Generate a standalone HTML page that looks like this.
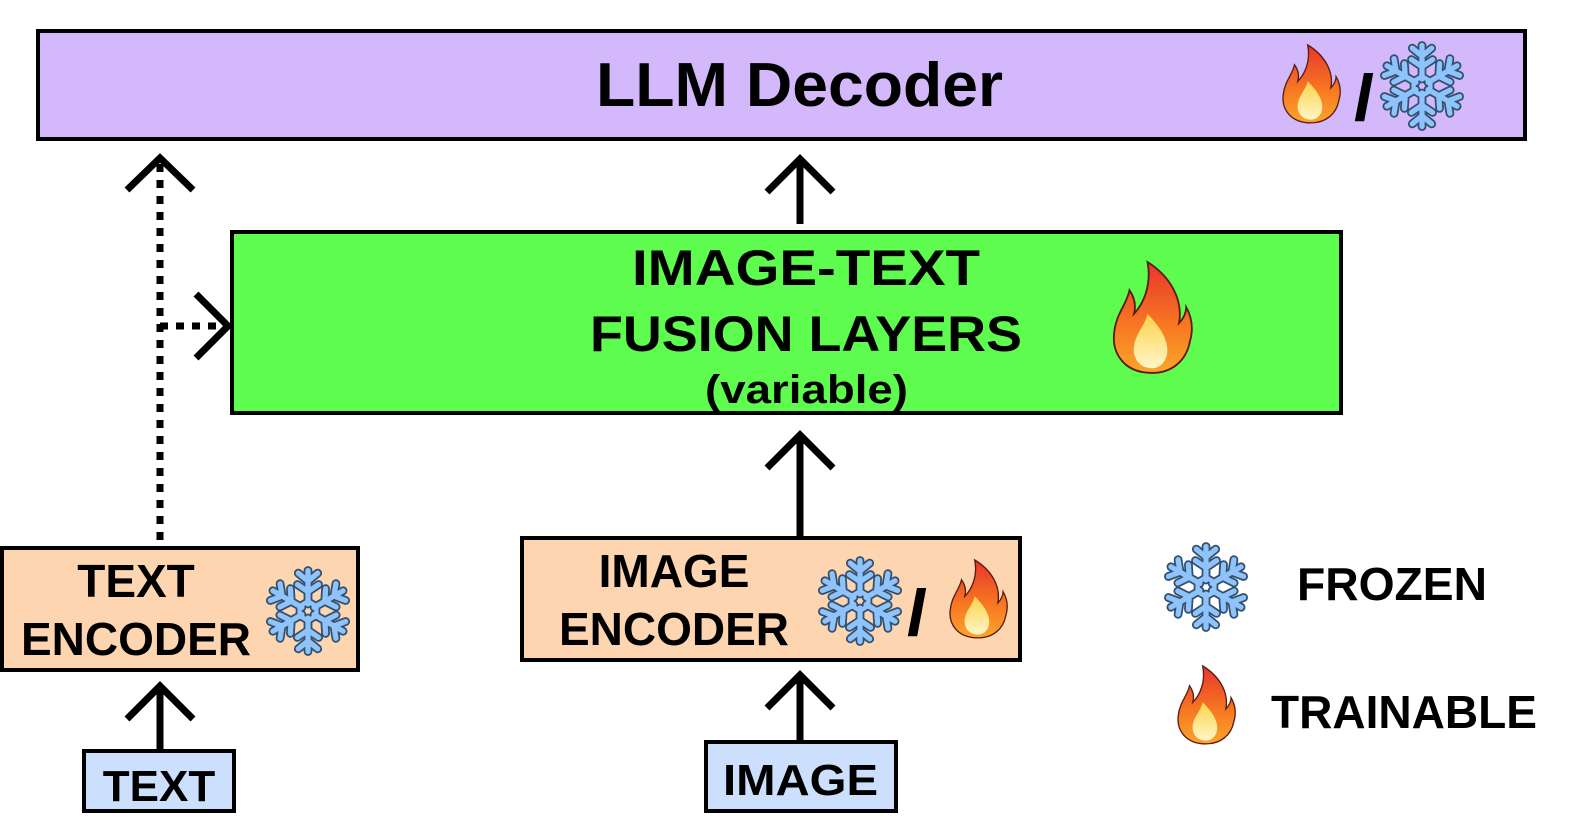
<!DOCTYPE html>
<html><head><meta charset="utf-8"><style>
html,body{margin:0;padding:0;background:#fff;}
svg{display:block;}
text{font-family:"Liberation Sans",sans-serif;font-weight:bold;fill:#000;}
</style></head><body>
<svg width="1571" height="827" viewBox="0 0 1571 827" xmlns="http://www.w3.org/2000/svg">
<defs>
<linearGradient id="fo" x1="0" y1="0" x2="0" y2="1">
<stop offset="0" stop-color="#e8352b"/><stop offset="0.6" stop-color="#f77b22"/><stop offset="1" stop-color="#fba52a"/>
</linearGradient>
<linearGradient id="fi" x1="0" y1="0" x2="0" y2="1">
<stop offset="0" stop-color="#fbd24a"/><stop offset="1" stop-color="#fff6c8"/>
</linearGradient>
<g id="fire">
<path d="M50,118 C20,118 5,98 8,75 C10,55 22,45 25,30 C32,40 32,48 30,55 C40,45 50,25 45,0 C70,15 85,40 80,65 C85,60 88,55 88,48 C95,60 96,72 92,85 C88,105 72,118 50,118 Z" fill="url(#fo)" stroke="#5a1a10" stroke-width="2"/>
<path d="M50,113 C35,113 28,101 30,89 C32,76 42,68 45,55 C55,65 63,75 66,86 C70,101 62,113 50,113Z" fill="url(#fi)"/>
</g>
<g id="armD"><path d="M0,-8 L0,-46 M0,-34 L-11,-43 M0,-34 L11,-43 M0,-22 L-12,-30 M0,-22 L12,-30" stroke-linecap="round"/></g>
<g id="snow">
<g stroke="#33506e" stroke-width="10" fill="none">
<use href="#armD"/><use href="#armD" transform="rotate(60)"/><use href="#armD" transform="rotate(120)"/><use href="#armD" transform="rotate(180)"/><use href="#armD" transform="rotate(240)"/><use href="#armD" transform="rotate(300)"/>
<polygon points="0,-11 9.5,-5.5 9.5,5.5 0,11 -9.5,5.5 -9.5,-5.5" stroke-width="9"/>
</g>
<g stroke="#8ec3fb" stroke-width="6" fill="none">
<use href="#armD"/><use href="#armD" transform="rotate(60)"/><use href="#armD" transform="rotate(120)"/><use href="#armD" transform="rotate(180)"/><use href="#armD" transform="rotate(240)"/><use href="#armD" transform="rotate(300)"/>
<polygon points="0,-11 9.5,-5.5 9.5,5.5 0,11 -9.5,5.5 -9.5,-5.5" stroke-width="5"/>
</g>
</g>
</defs>

<rect x="38" y="31" width="1487" height="108" fill="#d3b9fb" stroke="#000" stroke-width="4"/>
<text x="596" y="106" font-size="62" textLength="407" lengthAdjust="spacingAndGlyphs">LLM Decoder</text>
<use href="#fire" transform="translate(1278,45) scale(0.66)"/>
<text x="1364" y="119" font-size="62" text-anchor="middle" stroke="#000" stroke-width="2">/</text>
<use href="#snow" transform="translate(1422,86) scale(0.88)"/>

<g stroke="#000" stroke-width="7" fill="none" stroke-linecap="butt">
<line x1="800" y1="224" x2="800" y2="160"/>
<polyline points="767,192 800,159 833,192"/>
<line x1="800" y1="537" x2="800" y2="435"/>
<polyline points="767,468 800,435 833,468"/>
<line x1="800" y1="742" x2="800" y2="675"/>
<polyline points="767,708 800,675 833,708"/>
<line x1="160" y1="750" x2="160" y2="686"/>
<polyline points="127,719 160,686 193,719"/>
<polyline points="127,190 160,158 193,190"/>
<polyline points="196,294 228,326 196,358"/>
<line x1="160" y1="540" x2="160" y2="162" stroke-dasharray="8,8"/>
<line x1="160" y1="326" x2="226" y2="326" stroke-dasharray="8,8"/>
</g>

<rect x="232" y="232" width="1109" height="181" fill="#5efc4e" stroke="#000" stroke-width="4"/>
<text x="632" y="285" font-size="50" textLength="348" lengthAdjust="spacingAndGlyphs">IMAGE-TEXT</text>
<text x="590" y="351" font-size="50" textLength="432" lengthAdjust="spacingAndGlyphs">FUSION LAYERS</text>
<text x="705" y="403" font-size="40" textLength="203" lengthAdjust="spacingAndGlyphs">(variable)</text>
<use href="#fire" transform="translate(1107,262) scale(0.9,0.94)"/>

<rect x="522" y="538" width="498" height="122" fill="#fdd5b0" stroke="#000" stroke-width="4"/>
<text x="674" y="587" font-size="46" text-anchor="middle">IMAGE</text>
<text x="674" y="645" font-size="46" text-anchor="middle">ENCODER</text>
<use href="#snow" transform="translate(860,601) scale(0.88)"/>
<text x="917" y="634" font-size="62" text-anchor="middle" stroke="#000" stroke-width="2">/</text>
<use href="#fire" transform="translate(945,560) scale(0.66)"/>

<rect x="706" y="742" width="190" height="69" fill="#cce0fe" stroke="#000" stroke-width="4"/>
<text x="723" y="795" font-size="44" textLength="155" lengthAdjust="spacingAndGlyphs">IMAGE</text>

<rect x="2" y="548" width="356" height="122" fill="#fdd5b0" stroke="#000" stroke-width="4"/>
<text x="136" y="597" font-size="46" text-anchor="middle">TEXT</text>
<text x="136" y="655" font-size="46" text-anchor="middle">ENCODER</text>
<use href="#snow" transform="translate(308,611) scale(0.88)"/>

<rect x="84" y="751" width="150" height="60" fill="#cce0fe" stroke="#000" stroke-width="4"/>
<text x="159" y="801" font-size="44" text-anchor="middle">TEXT</text>

<use href="#snow" transform="translate(1206,587) scale(0.88)"/>
<text x="1297" y="600" font-size="46" textLength="190" lengthAdjust="spacingAndGlyphs">FROZEN</text>
<use href="#fire" transform="translate(1173,666) scale(0.66)"/>
<text x="1271" y="728" font-size="46" textLength="266" lengthAdjust="spacingAndGlyphs">TRAINABLE</text>
</svg>
</body></html>
